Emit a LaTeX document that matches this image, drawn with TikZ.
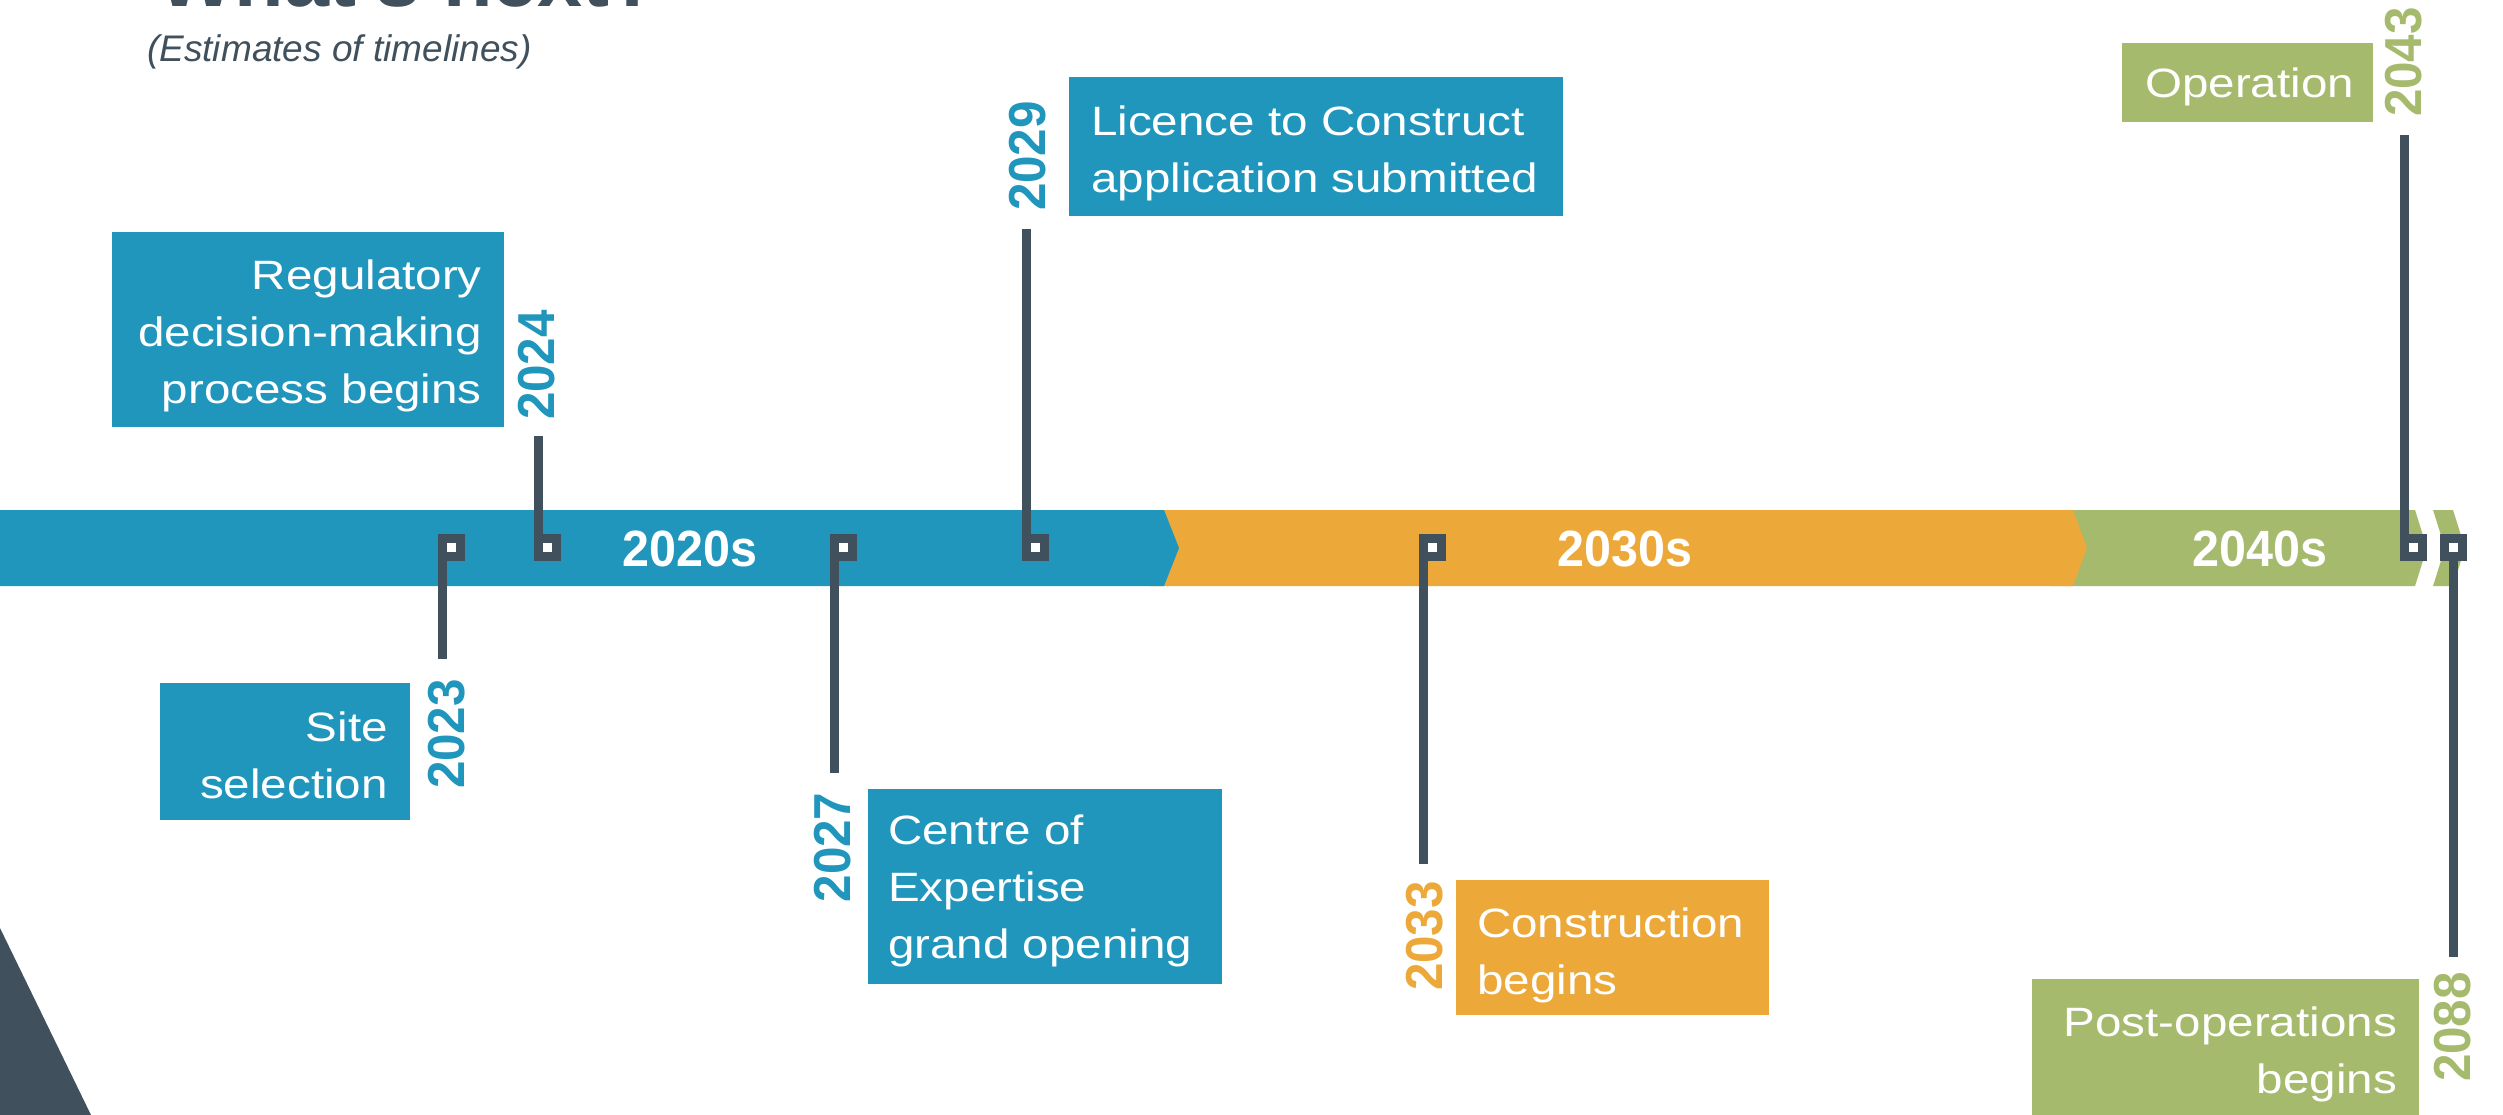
\documentclass[tikz,border=0pt]{standalone}
\usepackage{fontspec}
\setmainfont{Liberation Sans}
\newfontfamily\boxfont[FakeStretch=1.16]{Liberation Sans}
\newfontfamily\yrfont[FakeStretch=0.95]{Liberation Sans}
\definecolor{cblue}{HTML}{2196BC}
\definecolor{corange}{HTML}{ECA93A}
\definecolor{cgreen}{HTML}{A6BA6E}
\definecolor{cdark}{HTML}{40505C}
\begin{document}
\begin{tikzpicture}[x=1pt,y=-1pt,
  evbox/.style={inner sep=0, outer sep=0, anchor=north west},
  evtext/.style={inner sep=0, text=white, font=\boxfont\fontsize{41}{57}\selectfont},
  yr/.style={inner sep=0, rotate=90, font=\yrfont\bfseries\fontsize{52}{60}\selectfont},
  decade/.style={inner sep=0, text=white, font=\yrfont\bfseries\fontsize{51}{60}\selectfont},
  marker/.style={draw=cdark, fill=white, line width=9pt, minimum size=18pt, inner sep=0, outer sep=0},
  stem/.style={draw=cdark, line width=9pt}]
\useasboundingbox (0,0) rectangle (2503,1115);
% corner triangle
\fill[cdark] (0,928) -- (91,1115) -- (0,1115) -- cycle;
% title
\node[anchor=base west, inner sep=0, text=cdark, font=\bfseries\fontsize{81}{90}\selectfont] (title) at (158,7) {What's next?};
\node[anchor=base west, inner sep=0, text=cdark, font=\itshape\fontsize{37}{44}\selectfont] (sub) at (147,62) {(Estimates of timelines)};
% bar
\fill[cgreen] (2050,510) -- (2415,510) -- (2427,548) -- (2415,586) -- (2050,586) -- cycle;
\fill[cgreen] (2433,510) -- (2453,510) -- (2465,548) -- (2453,586) -- (2433,586) -- (2445,548) -- cycle;
\fill[corange] (1150,510) -- (2073,510) -- (2087,548) -- (2073,586) -- (1150,586) -- cycle;
\fill[cblue] (0,510) -- (1164,510) -- (1179,548) -- (1164,586) -- (0,586) -- cycle;
\node[decade] (d20) at (690,549) {2020s};
\node[decade] (d30) at (1625,549) {2030s};
\node[decade] (d40) at (2260,549) {2040s};
% markers
\node[marker] (m23) at (451.5,547.5) {};
\node[marker] (m24) at (547,547.5) {};
\node[marker] (m27) at (843.5,547.5) {};
\node[marker] (m29) at (1035.5,547.5) {};
\node[marker] (m33) at (1432.5,547.5) {};
\node[marker] (m43) at (2413.5,547.5) {};
\node[marker] (m88) at (2453.5,547.5) {};
% stem ends
\coordinate (s23) at (442.5,659);
\coordinate (s24) at (538,436);
\coordinate (s27) at (834.5,773);
\coordinate (s29) at (1026.5,229);
\coordinate (s33) at (1423.5,864);
\coordinate (s43) at (2404.5,135);
\coordinate (s88) at (2453.5,957);
\draw[stem] (m23.south west) -- (s23);
\draw[stem] (m24.north west) -- (s24);
\draw[stem] (m27.south west) -- (s27);
\draw[stem] (m29.north west) -- (s29);
\draw[stem] (m33.south west) -- (s33);
\draw[stem] (m43.north west) -- (s43);
\draw[stem] (m88.south) -- (s88);
% redraw markers on top of stems
\node[marker] at (m23) {};
\node[marker] at (m24) {};
\node[marker] at (m27) {};
\node[marker] at (m29) {};
\node[marker] at (m33) {};
\node[marker] at (m43) {};
\node[marker] at (m88) {};
% boxes
\node[evbox, fill=cblue, minimum width=250pt, minimum height=137pt] (b23) at (160,683) {};
\node[evtext, anchor=base east, align=right] (t23) at (388,798) {Site\\selection};
\node[yr, text=cblue] (y23) at (447,734) {2023};

\node[evbox, fill=cblue, minimum width=392pt, minimum height=195pt] (b24) at (112,232) {};
\node[evtext, anchor=base east, align=right] (t24) at (482,403) {Regulatory\\decision-making\\process begins};
\node[yr, text=cblue] (y24) at (537,365) {2024};

\node[evbox, fill=cblue, minimum width=354pt, minimum height=195pt] (b27) at (868,789) {};
\node[evtext, anchor=base west, align=left] (t27) at (888,958) {Centre of\\Expertise\\grand opening};
\node[yr, text=cblue] (y27) at (832.5,847.5) {2027};

\node[evbox, fill=cblue, minimum width=494pt, minimum height=139pt] (b29) at (1069,77) {};
\node[evtext, anchor=base west, align=left] (t29) at (1091,193) {Licence to Construct\\application submitted};
\node[yr, text=cblue] (y29) at (1027.5,156) {2029};

\node[evbox, fill=corange, minimum width=313pt, minimum height=135pt] (b33) at (1456,880) {};
\node[evtext, anchor=base west, align=left] (t33) at (1477,994) {Construction\\begins};
\node[yr, text=corange] (y33) at (1425,936) {2033};

\node[evbox, fill=cgreen, minimum width=251pt, minimum height=79pt] (b43) at (2122,43) {};
\node[evtext, anchor=base west] (t43) at (2145,98) {Operation};
\node[yr, text=cgreen] (y43) at (2404,62) {2043};

\node[evbox, fill=cgreen, minimum width=387pt, minimum height=140pt] (b88) at (2032,979) {};
\node[evtext, anchor=base east, align=right] (t88) at (2397,1093) {Post-operations\\begins};
\node[yr, text=cgreen] (y88) at (2452.5,1027) {2088};
\end{tikzpicture}
\end{document}
